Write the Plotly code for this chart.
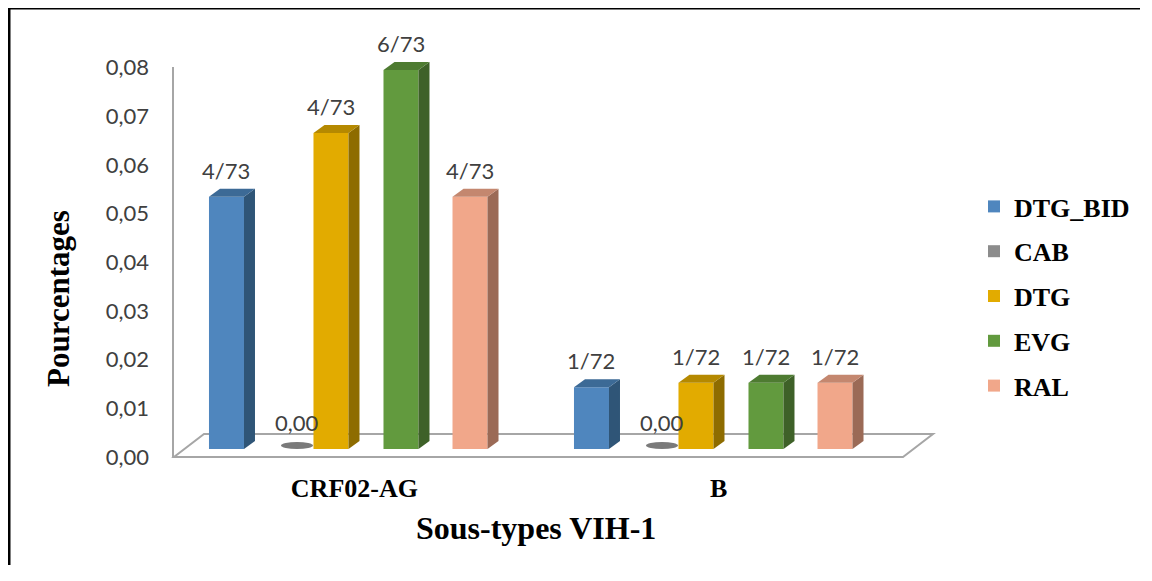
import plotly.graph_objects as go

# ---------------- data ----------------
categories = ["CRF02-AG", "B"]
series_names = ["DTG_BID", "CAB", "DTG", "EVG", "RAL"]
dtg_bid = [0.0518, 0.0127]
cab = [0.0, 0.0]
dtg = [0.0649, 0.0136]
evg = [0.0778, 0.0136]
ral = [0.0518, 0.0136]
dtg_bid_labels = ["4/73", "1/72"]
cab_labels = ["0,00", "0,00"]
dtg_labels = ["4/73", "1/72"]
evg_labels = ["6/73", "1/72"]
ral_labels = ["4/73", "1/72"]
y_ticks = [0.00, 0.01, 0.02, 0.03, 0.04, 0.05, 0.06, 0.07, 0.08]

series_values = [dtg_bid, cab, dtg, evg, ral]
series_labels = [dtg_bid_labels, cab_labels, dtg_labels, evg_labels, ral_labels]

# ---------------- style ----------------
front = ["#4f86be", "#8c8c8c", "#e2ab00", "#629a3e", "#f1a78a"]
side = ["#2f5577", "#6e6e6e", "#8e6c00", "#3e6128", "#9b6a56"]
top = ["#3c6a96", "#7a7a7a", "#b58900", "#4e7b31", "#c4876f"]
offsets = [-0.3384, -0.1452, -0.0521, 0.1397, 0.3288]
bar_w = 0.0959

OFF = 8  # page body margin
W, H = 1152 - 2 * OFF - 4, 581 - 2 * OFF - 8
PL, PR, PT, PB = 174, 935, 40, 470          # plot area in page pixels
ML, MT = PL - OFF, PT - OFF
MR, MB = W - (PR - OFF), H - (PB - OFF)
PW, PH = PR - PL, PB - PT
PX_PER_X = 365.0
PX_PER_Y = 4870.0
X0_PX, Y0_PX = 350.0, 449.0                  # page pixel of x=0 / y=0
xrange = [(PL - X0_PX) / PX_PER_X, (PR - X0_PX) / PX_PER_X]
yrange = [(Y0_PX - PB) / PX_PER_Y, (Y0_PX - PT) / PX_PER_Y]
dx = 11 / PX_PER_X
dy = 8 / PX_PER_Y


def px(xp):
    return (xp - PL) / PW


def py(yp):
    return (PB - yp) / PH


fig = go.Figure()
shapes = []
annotations = []

for k, name in enumerate(series_names):
    xs = [i + offsets[k] for i in range(len(categories))]
    fig.add_trace(go.Bar(
        x=xs, y=series_values[k], width=bar_w, name=name,
        marker=dict(color=front[k], line=dict(width=0)),
        legendgroup=name, hoverinfo="skip",
    ))
    for xc, v, lab in zip(xs, series_values[k], series_labels[k]):
        l, r = xc - bar_w / 2, xc + bar_w / 2
        if v > 0:
            shapes.append(dict(type="path", xref="x", yref="y", layer="above",
                               path=f"M{r},0 L{r},{v} L{r+dx},{v+dy} L{r+dx},{dy} Z",
                               fillcolor=side[k], line=dict(width=0)))
            shapes.append(dict(type="path", xref="x", yref="y", layer="above",
                               path=f"M{l},{v} L{r},{v} L{r+dx},{v+dy} L{l+dx},{v+dy} Z",
                               fillcolor=top[k], line=dict(width=0)))
        else:
            shapes.append(dict(type="circle", xref="x", yref="y", layer="above",
                               xsizemode="pixel", ysizemode="pixel",
                               xanchor=xc, yanchor=v, x0=-16, x1=16, y0=0, y1=7,
                               fillcolor="#7a7a7a", line=dict(width=0)))
        annotations.append(dict(x=xc, y=v, xref="x", yref="y", text=lab,
                                showarrow=False, yanchor="bottom", yshift=11,
                                font=dict(family="Lato", size=22, color="#404040")))

# floor
fl = [(174, 457), (903, 457), (933, 434), (204, 434)]
path = "M" + " L".join(f"{px(a)},{py(b)}" for a, b in fl) + " Z"
shapes.insert(0, dict(type="path", xref="paper", yref="paper", layer="below", path=path,
                      line=dict(color="#a6a6a6", width=2), fillcolor="rgba(0,0,0,0)"))
# vertical wall line
shapes.insert(0, dict(type="line", xref="paper", yref="paper", layer="below",
                      x0=px(173), x1=px(173), y0=py(67), y1=py(457),
                      line=dict(color="#a6a6a6", width=2)))
# outer frame (only top and left edges are visible in the picture)
shapes.append(dict(type="line", xref="paper", yref="paper",
                   x0=px(7.5), x1=px(1148), y0=py(8), y1=py(8),
                   line=dict(color="black", width=3)))
shapes.append(dict(type="line", xref="paper", yref="paper",
                   x0=px(9), x1=px(9), y0=py(6.5), y1=py(575),
                   line=dict(color="black", width=3)))

# axis titles
annotations.append(dict(text="<b>Pourcentages</b>", xref="paper", yref="paper",
                        x=px(58), y=py(298), textangle=-90, showarrow=False,
                        xanchor="center", yanchor="middle",
                        font=dict(family="Liberation Serif", size=31, color="black")))
annotations.append(dict(text="<b>Sous-types VIH-1</b>", xref="paper", yref="paper",
                        x=px(536), y=py(528), showarrow=False,
                        xanchor="center", yanchor="middle",
                        font=dict(family="Liberation Serif", size=32, color="black")))

fig.update_layout(
    width=W, height=H,
    margin=dict(l=ML, r=MR, t=MT, b=MB, autoexpand=False),
    paper_bgcolor="rgba(0,0,0,0)", plot_bgcolor="rgba(0,0,0,0)",
    barmode="overlay",
    separators=", ",
    showlegend=True,
    legend=dict(x=px(974), y=py(183), xanchor="left", yanchor="top",
                font=dict(family="Liberation Serif", size=26, color="black", weight="bold"),
                tracegroupgap=8, bgcolor="rgba(0,0,0,0)"),
    xaxis=dict(range=xrange, tickvals=[0.012, 1.01], ticktext=categories, showgrid=False,
               zeroline=False, showline=False, ticks="",
               tickfont=dict(family="Liberation Serif", size=26, color="black", weight="bold"),
               ticklabelstandoff=0),
    yaxis=dict(range=yrange, tickvals=y_ticks, tickformat=".2f", showgrid=False,
               zeroline=False, showline=False, ticks="", ticklabelshift=8,
               ticklabelstandoff=24,
               tickfont=dict(family="Lato", size=22, color="#404040")),
    shapes=shapes, annotations=annotations,
)

fig.write_html("out.html")
